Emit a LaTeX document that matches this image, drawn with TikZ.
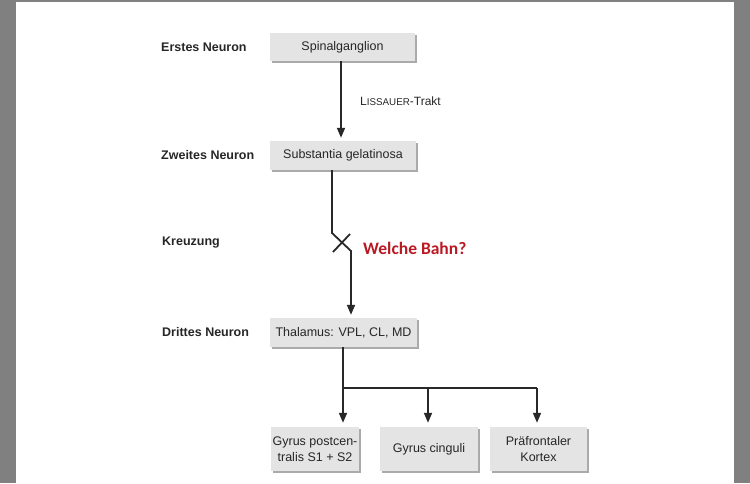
\documentclass[tikz,border=0pt]{standalone}
\usepackage{fontspec}
\setmainfont{Liberation Sans}
\newfontfamily\calfont{Carlito}
\usetikzlibrary{arrows.meta,shadows}
\definecolor{boxfill}{RGB}{228,228,228}
\definecolor{shadowc}{RGB}{170,170,170}
\definecolor{linec}{RGB}{40,40,40}
\definecolor{redtxt}{RGB}{185,25,35}
\definecolor{barc}{RGB}{128,128,128}
\begin{document}
\begin{tikzpicture}[x=1pt,y=-1pt,
  box/.style={rectangle,fill=boxfill,inner sep=0pt,align=center,
    font=\fontsize{12.5}{16}\selectfont,text=black!85,
    drop shadow={shadow xshift=2pt,shadow yshift=-2pt,fill=shadowc,opacity=1}},
  lbl/.style={anchor=west,inner sep=0pt,font=\fontsize{12.5}{15}\selectfont\bfseries,text=black!85},
  arr/.style={draw=linec,line width=1.8pt,-{Triangle[width=8pt,length=10pt]}},
  ln/.style={draw=linec,line width=1.8pt}]
\useasboundingbox (0,0) rectangle (750,483);
% frame bars
\fill[barc] (0,0) rectangle (16,483);
\fill[barc] (734,0) rectangle (750,483);
\fill[barc] (16,0) rectangle (734,2);
% boxes
\node[box,minimum width=145pt,minimum height=28pt] (sp) at (342.5,47) {Spinalganglion};
\node[box,minimum width=146pt,minimum height=29pt] (sub) at (343,155.5) {Substantia gelatinosa};
\node[box,minimum width=147pt,minimum height=29pt] (thal) at (343.5,332.5) {Thalamus: VPL, CL, MD};
\node[box,minimum width=88pt,minimum height=44pt] (gp) at (315,449) {Gyrus postcen-\\tralis S1 + S2};
\node[box,minimum width=98pt,minimum height=44pt] (gc) at (429,449) {Gyrus cinguli};
\node[box,minimum width=97pt,minimum height=44pt] (pf) at (538.5,449) {Präfrontaler\\Kortex};
% left labels
\node[lbl] (l1) at (161,47) {Erstes Neuron};
\node[lbl] (l2) at (161,155) {Zweites Neuron};
\node[lbl] (l3) at (162,243) {Kreuzung};
\node[lbl] (l4) at (162,332) {Drittes Neuron};
% annotations
\node[anchor=west,inner sep=0pt,font=\fontsize{12}{14}\selectfont,text=black!85] (lt) at (360,101)
  {L{\fontsize{9.8}{11}\selectfont ISSAUER}-Trakt};
\node[anchor=west,inner sep=0pt,font=\fontsize{17.5}{20}\calfont\bfseries,text=redtxt] (wb) at (363,248) {Welche Bahn?};
% connectors
\coordinate (a1) at (341,63);
\draw[arr,shorten >=3pt] (sp.south -| a1) -- (sub.north -| a1);
\coordinate (k1) at (332,233);
\coordinate (k2) at (351,251);
\draw[arr,shorten >=3pt] (sub.south -| k1) -- (k1) -- (k2) -- (thal.north -| k2);
\coordinate (x1) at (333,252);
\coordinate (x2) at (350,234);
\draw[ln] (x1) -- (x2);
\coordinate (br) at (343,388);
\coordinate (bc) at (428,388);
\coordinate (be) at (537,388);
\draw[ln] (thal.south -| br) -- (br);
\draw[ln] (br) -- (be);
\draw[arr,shorten >=4pt] (br) -- (gp.north -| br);
\draw[arr,shorten >=4pt] (bc) -- (gc.north -| bc);
\draw[arr,shorten >=4pt] (be) -- (pf.north -| be);
\end{tikzpicture}
\end{document}
